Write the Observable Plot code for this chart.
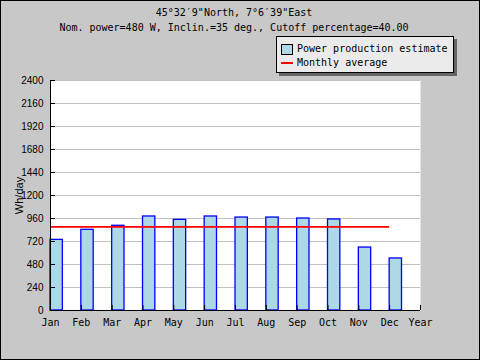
<!DOCTYPE html>
<html>
<head>
<meta charset="utf-8">
<script src="https://cdn.jsdelivr.net/npm/d3@7"></script>
<script src="https://cdn.jsdelivr.net/npm/@observablehq/plot@0.6"></script>
<style>
  html, body { margin: 0; padding: 0; background: #c8c8c8; }
  #wrap { position: relative; width: 480px; height: 360px; overflow: hidden; background: #c8c8c8; }
  #wrap svg { position: absolute; left: 0; top: 0; }
  .mono { font-family: "DejaVu Sans Mono", monospace; font-size: 10px; color: #000; white-space: nowrap; }
  .title { position: absolute; left: 0; width: 468px; text-align: center; line-height: 12px; }
  #border { position: absolute; left: 0; top: 0; width: 480px; height: 360px; box-sizing: border-box; border: 1px solid #000; pointer-events: none; }
  #legend { position: absolute; left: 276px; top: 36px; width: 176px; height: 35px; background: #ebebeb; border: 1px solid #000; box-shadow: 3px 3px 0 #666; }
  .li { position: absolute; left: 20px; line-height: 12px; }
  #sw1 { position: absolute; left: 4px; top: 7px; width: 10px; height: 9px; background: #add8e6; border: 1px solid #000; }
  #sw2 { position: absolute; left: 4px; top: 25px; width: 12px; height: 2px; background: #ff0000; }
</style>
</head>
<body>
<div id="wrap">
  <div class="title mono" style="top:7px">45°32′9"North, 7°6′39"East</div>
  <div class="title mono" style="top:22px">Nom. power=480 W, Inclin.=35 deg., Cutoff percentage=40.00</div>
  <div id="legend">
    <div id="sw1"></div>
    <div class="li mono" style="top:6px">Power production estimate</div>
    <div id="sw2"></div>
    <div class="li mono" style="top:20px">Monthly average</div>
  </div>
  <div id="border"></div>
</div>
<script>
const months = ["Jan","Feb","Mar","Apr","May","Jun","Jul","Aug","Sep","Oct","Nov","Dec"];
const xTickLabels = [...months, "Year"];
const values = [737, 842, 884, 981, 946, 981, 970, 970, 960, 950, 657, 543];
const monthlyAverage = 873;
const yTicks = [0, 240, 480, 720, 960, 1200, 1440, 1680, 1920, 2160, 2400];
const yLabel = "Wh/day";

const barData = months.map((m, i) => ({month: m, i, value: values[i]}));
const xIdx = d3.range(xTickLabels.length);
const barWidth = 0.4;

const chart = Plot.plot({
  width: 480,
  height: 360,
  marginLeft: 50,
  marginRight: 60,
  marginTop: 80,
  marginBottom: 50,
  style: {background: "#c8c8c8", color: "#000"},
  x: {type: "linear", domain: [0, 12], label: null},
  y: {domain: [0, 2400], label: null},
  marks: [
    Plot.frame({fill: "white", stroke: "none"}),
    Plot.gridY(yTicks, {stroke: "#c0c0c0", strokeOpacity: 1, strokeWidth: 1}),
    Plot.rectY(barData, {x1: d => d.i, x2: d => d.i + barWidth, y1: 0, y2: "value", fill: "#add8e6", stroke: "#0000ff", strokeWidth: 1.3}),
    Plot.ruleY([monthlyAverage], {x1: 0, x2: months.length - 1, stroke: "#ff0000", strokeWidth: 1.6}),
    Plot.ruleX([0], {stroke: "#000", strokeWidth: 1}),
    Plot.ruleY([0], {stroke: "#000", strokeWidth: 1}),
    Plot.axisY(yTicks, {tickSize: 5, dx: 5, fill: "none", label: null}),
    Plot.axisY(yTicks, {tickSize: 0, tickPadding: 7, stroke: "none", label: null, tickFormat: d => String(d), fontFamily: "Liberation Sans, Arial, sans-serif", fontSize: 10}),
    Plot.axisX(xIdx, {tickSize: 5, dy: -5, fill: "none", label: null}),
    Plot.axisX(xIdx, {tickSize: 0, tickPadding: 8, stroke: "none", label: null, tickFormat: i => xTickLabels[i], fontFamily: "DejaVu Sans Mono, monospace", fontSize: 10}),
    Plot.text([yLabel], {frameAnchor: "left", textAnchor: "middle", text: d => d, rotate: -90, dx: -31, fontFamily: "Liberation Sans, Arial, sans-serif", fontSize: 11, fill: "#000"})
  ]
});
document.getElementById("wrap").insertBefore(chart, document.getElementById("wrap").firstChild);
</script>
</body>
</html>
